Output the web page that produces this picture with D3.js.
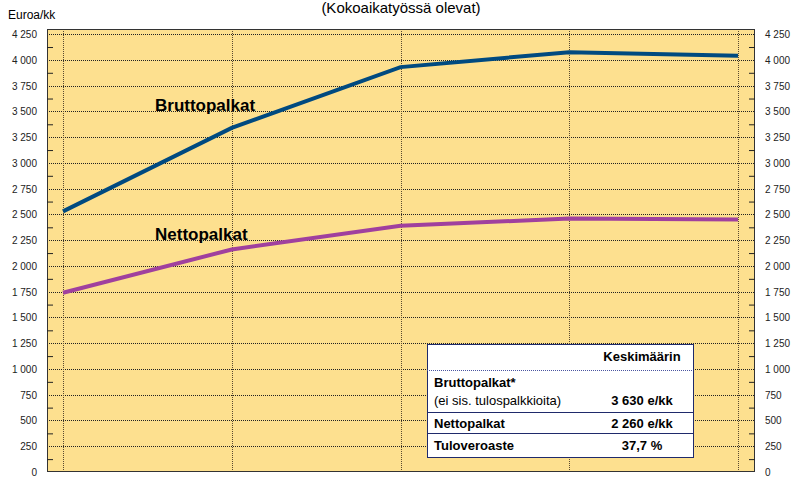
<!DOCTYPE html>
<html>
<head>
<meta charset="utf-8">
<script src="https://cdn.jsdelivr.net/npm/d3@7"></script>
<style>
  body { margin: 0; background: #fff; }
  svg { font-family: Arial, "Liberation Sans", sans-serif; display: block; }
</style>
</head>
<body>
<div id="chart"></div>
<script>
// Chart data
const categories = ['p1', 'p2', 'p3', 'p4', 'p5'];
const bruttoValues = [2530, 3340, 3930, 4075, 4040];
const nettoValues = [1740, 2160, 2390, 2460, 2450];
const yTicks = d3.range(0, 4251, 250);
const minorTicks = d3.range(125, 4251, 250);
const tableRows = [
    { label: 'Bruttopalkat*', sub: '(ei sis. tulospalkkioita)', value: '3 630 e/kk' },
    { label: 'Nettopalkat', value: '2 260 e/kk' },
    { label: 'Tuloveroaste', value: '37,7 %' }
];

const width = 792;
const height = 477;
const plot = { left: 47, right: 755, top: 29, bottom: 472 };

const fmt = v => d3.format(',')(v).replace(/,/g, ' ');

const svg = d3.select('#chart')
    .append('svg')
    .attr('width', width)
    .attr('height', height);

const x = d3.scalePoint()
    .domain(categories)
    .range([63, 738]);

const y = d3.scaleLinear()
    .domain([0, 4300])
    .range([plot.bottom, plot.top]);

// Plot background
svg.append('rect')
    .attr('x', plot.left)
    .attr('y', plot.top)
    .attr('width', plot.right - plot.left)
    .attr('height', plot.bottom - plot.top)
    .attr('fill', '#FDE08F');

// Horizontal grid
svg.append('g')
    .selectAll('line')
    .data(yTicks.filter(d => d > 0))
    .enter()
    .append('line')
    .attr('x1', plot.left)
    .attr('x2', plot.right)
    .attr('y1', d => Math.round(y(d)) + 0.5)
    .attr('y2', d => Math.round(y(d)) + 0.5)
    .attr('stroke', '#222')
    .attr('stroke-dasharray', '1,1');

// Vertical grid
svg.append('g')
    .selectAll('line')
    .data(categories)
    .enter()
    .append('line')
    .attr('x1', d => Math.round(x(d)) + 0.5)
    .attr('x2', d => Math.round(x(d)) + 0.5)
    .attr('y1', plot.top)
    .attr('y2', plot.bottom)
    .attr('stroke', '#5a4a30')
    .attr('stroke-dasharray', '1,1');

// Frame
svg.append('rect')
    .attr('x', plot.left + 0.5)
    .attr('y', plot.top + 0.5)
    .attr('width', plot.right - plot.left - 1)
    .attr('height', plot.bottom - plot.top - 1)
    .attr('fill', 'none')
    .attr('stroke', '#333');

// Axes (ticks pointing inward)
const leftAxis = svg.append('g')
    .attr('transform', `translate(${plot.left},0)`)
    .call(d3.axisRight(y).tickValues(minorTicks).tickSize(6).tickFormat(''));
const rightAxis = svg.append('g')
    .attr('transform', `translate(${plot.right},0)`)
    .call(d3.axisLeft(y).tickValues(minorTicks).tickSize(6).tickFormat(''));
[leftAxis, rightAxis].forEach(g => {
    g.select('.domain').remove();
    g.selectAll('line').attr('stroke', '#222');
});

// Tick labels
svg.append('g')
    .selectAll('text')
    .data(yTicks)
    .enter()
    .append('text')
    .attr('x', 37)
    .attr('y', d => y(d) + 4)
    .attr('text-anchor', 'end')
    .attr('font-size', 10)
    .attr('fill', '#222')
    .text(fmt);

svg.append('g')
    .selectAll('text')
    .data(yTicks)
    .enter()
    .append('text')
    .attr('x', 765)
    .attr('y', d => y(d) + 4)
    .attr('font-size', 10)
    .attr('fill', '#222')
    .text(fmt);

// Lines
const line = d3.line()
    .x((d, i) => x(categories[i]))
    .y(d => y(d));

svg.append('path')
    .datum(nettoValues)
    .attr('fill', 'none')
    .attr('stroke', '#A0409E')
    .attr('stroke-width', 4)
    .attr('d', line);

svg.append('path')
    .datum(bruttoValues)
    .attr('fill', 'none')
    .attr('stroke', '#004A80')
    .attr('stroke-width', 4)
    .attr('d', line);

// Series labels
svg.append('text')
    .attr('x', 155)
    .attr('y', 111)
    .attr('font-size', 17)
    .attr('font-weight', 'bold')
    .text('Bruttopalkat');

svg.append('text')
    .attr('x', 155)
    .attr('y', 240)
    .attr('font-size', 17)
    .attr('font-weight', 'bold')
    .text('Nettopalkat');

// Titles
svg.append('text')
    .attr('x', 8)
    .attr('y', 19)
    .attr('font-size', 12)
    .text('Euroa/kk');

svg.append('text')
    .attr('x', 401)
    .attr('y', 13)
    .attr('text-anchor', 'middle')
    .attr('font-size', 15)
    .text('(Kokoaikatyössä olevat)');

// Summary table
const tbl = svg.append('g');
const tx = 427, tw = 266;
const rowsY = [344, 370, 412, 433, 457];
const valX = 642;

tbl.append('rect')
    .attr('x', tx + 0.5)
    .attr('y', rowsY[0] + 0.5)
    .attr('width', tw)
    .attr('height', rowsY[4] - rowsY[0])
    .attr('fill', '#fff')
    .attr('stroke', '#1f2a6b');

tbl.append('line')
    .attr('x1', tx).attr('x2', tx + tw)
    .attr('y1', rowsY[1] + 0.5).attr('y2', rowsY[1] + 0.5)
    .attr('stroke', '#4a55a0')
    .attr('stroke-dasharray', '1,1');

[rowsY[2], rowsY[3]].forEach(yy => {
    tbl.append('line')
        .attr('x1', tx).attr('x2', tx + tw)
        .attr('y1', yy + 0.5).attr('y2', yy + 0.5)
        .attr('stroke', '#1f2a6b');
});

tbl.append('text')
    .attr('x', valX)
    .attr('y', 361)
    .attr('text-anchor', 'middle')
    .attr('font-size', 13)
    .attr('font-weight', 'bold')
    .text('Keskimäärin');

const labelY = [387, 428, 450];
tableRows.forEach((r, i) => {
    tbl.append('text')
        .attr('x', tx + 7)
        .attr('y', labelY[i])
        .attr('font-size', 13)
        .attr('font-weight', 'bold')
        .text(r.label);
    if (r.sub) {
        tbl.append('text')
            .attr('x', tx + 7)
            .attr('y', 405)
            .attr('font-size', 13)
            .text(r.sub);
    }
    tbl.append('text')
        .attr('x', valX)
        .attr('y', r.sub ? 405 : labelY[i])
        .attr('text-anchor', 'middle')
        .attr('font-size', 13)
        .attr('font-weight', 'bold')
        .text(r.value);
});
</script>
</body>
</html>
